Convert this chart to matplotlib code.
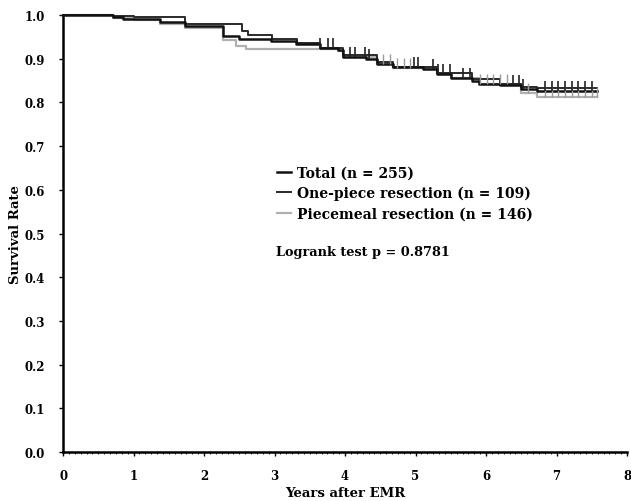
"""Kaplan-Meier style survival curves after EMR."""

import matplotlib

matplotlib.use("Agg")
import matplotlib.pyplot as plt
import numpy as np
from matplotlib.ticker import FormatStrFormatter, MultipleLocator

# step curves: (years, survival)
total_t = [0, 0.71, 0.85, 1.38, 1.73, 2.27, 2.5, 2.95, 3.3, 3.65, 3.9, 3.97, 4.3, 4.45,
           4.68, 5.1, 5.3, 5.5, 5.8, 5.9, 6.2, 6.5, 6.72, 7.57]
total_s = [1.0, 0.996, 0.992, 0.984, 0.974, 0.953, 0.945, 0.940, 0.934, 0.925, 0.920, 0.905,
           0.900, 0.889, 0.880, 0.876, 0.866, 0.857, 0.850, 0.842, 0.840, 0.830, 0.825, 0.825]

one_t = [0, 0.71, 1.0, 1.73, 2.54, 2.62, 2.96, 3.32, 3.65, 3.97, 4.45, 4.68, 5.3, 5.8,
         6.2, 6.5, 6.72, 7.57]
one_s = [1.0, 0.998, 0.995, 0.980, 0.964, 0.955, 0.945, 0.936, 0.924, 0.908, 0.893, 0.882,
         0.868, 0.853, 0.842, 0.836, 0.832, 0.832]

piece_t = [0, 0.71, 1.0, 1.38, 1.73, 2.27, 2.45, 2.6, 3.9, 3.97, 4.45, 4.68, 5.3, 5.5,
           5.9, 6.5, 6.72, 7.57]
piece_s = [1.0, 0.993, 0.988, 0.980, 0.970, 0.943, 0.930, 0.922, 0.918, 0.905, 0.888, 0.878,
           0.865, 0.855, 0.842, 0.822, 0.812, 0.812]

# censored observations (years)
censor_black = [3.65, 3.76, 3.83, 4.07, 4.14, 4.28, 4.34, 4.98, 5.04, 5.25, 5.32, 5.39, 5.49,
                5.67, 5.77, 6.38, 6.47, 6.52, 6.84, 6.94, 7.02, 7.12, 7.22, 7.30, 7.40, 7.50]
censor_gray = [4.54, 4.64, 4.74, 4.84, 4.92, 5.91, 6.01, 6.10, 6.20, 6.30, 6.60,
               6.84, 6.94, 7.02, 7.12, 7.22, 7.30, 7.40, 7.50, 7.57]

plt.rcParams["font.family"] = ["DejaVu Serif"]
plt.rcParams["font.weight"] = "bold"
plt.rcParams["axes.labelweight"] = "bold"


def step_value(times, surv, t):
    idx = np.searchsorted(times, t, side="right") - 1
    return np.asarray(surv)[idx]


fig = plt.figure(figsize=(6.31, 5.02), dpi=100)
ax = fig.add_axes([0.1, 0.0976, 0.8937, 0.8705])

ax.step(piece_t, piece_s, where="post", color="#b0b0b0", lw=1.6, clip_on=False,
        label="Piecemeal resection (n = 146)", zorder=2)
ax.step(one_t, one_s, where="post", color="#2a2a2a", lw=1.4, clip_on=False,
        label="One-piece resection (n = 109)", zorder=3)
ax.step(total_t, total_s, where="post", color="#111111", lw=1.8, clip_on=False,
        label="Total (n = 255)", zorder=4)

ax.plot(censor_black, step_value(total_t, total_s, censor_black), ls="none", marker=2,
        ms=7, mew=1.2, color="#222222", zorder=5)
ax.plot(censor_gray, step_value(piece_t, piece_s, censor_gray), ls="none", marker=2,
        ms=7, mew=1.0, color="#9a9a9a", zorder=4)

ax.set_xlim(0, 8)
ax.set_ylim(0, 1.0)
ax.xaxis.set_major_locator(MultipleLocator(1))
ax.xaxis.set_minor_locator(MultipleLocator(1 / 12))
ax.yaxis.set_major_locator(MultipleLocator(0.1))
ax.yaxis.set_major_formatter(FormatStrFormatter("%.1f"))
ax.tick_params(axis="both", which="major", length=3, width=1, labelsize=8.5)
ax.tick_params(axis="y", which="major", pad=10)
ax.tick_params(axis="x", which="major", pad=9)
ax.tick_params(axis="x", which="minor", length=1.5, width=0.6)

for side in ("top", "right"):
    ax.spines[side].set_visible(False)
for side in ("left", "bottom"):
    ax.spines[side].set_linewidth(1.8)

ax.set_xlabel("Years after EMR", fontsize=9.5)
ax.set_ylabel("Survival Rate", fontsize=9.5)
ax.xaxis.set_label_coords(0.5, -0.078)
ax.yaxis.set_label_coords(-0.072, 0.5)

handles, labels = ax.get_legend_handles_labels()
ax.legend(handles[::-1], labels[::-1], loc="upper left", bbox_to_anchor=(0.37, 0.668),
          frameon=False, fontsize=10, handlelength=1.0, handletextpad=0.4,
          labelspacing=0.45, borderaxespad=0)
ax.text(0.378, 0.458, "Logrank test p = 0.8781", transform=ax.transAxes, fontsize=9.3,
        va="center", ha="left")

fig.savefig("out.png", dpi=100)
plt.close(fig)
